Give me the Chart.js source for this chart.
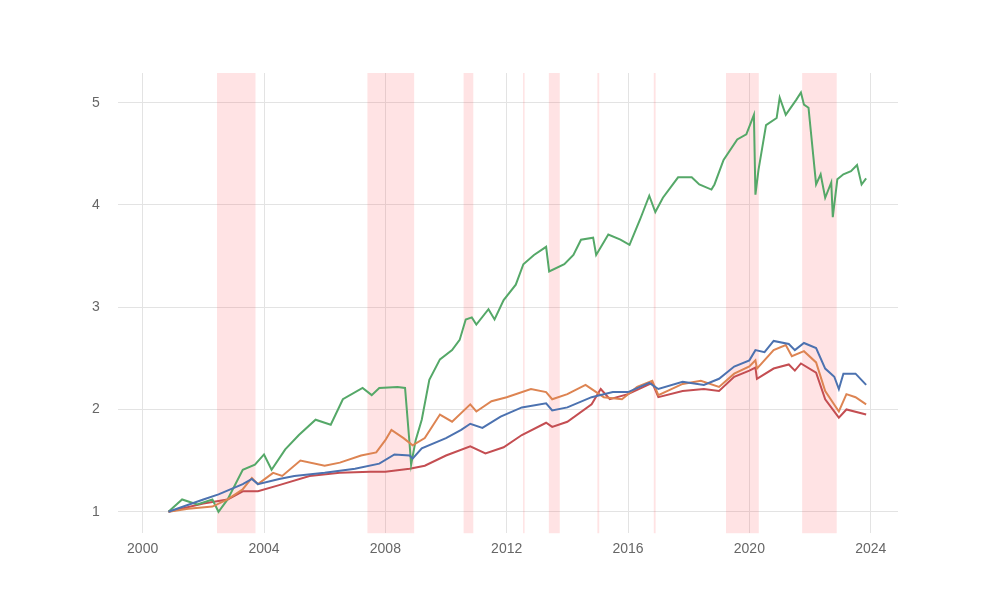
<!DOCTYPE html>
<html>
<head>
<meta charset="utf-8">
<script src="https://cdn.jsdelivr.net/npm/chart.js@4"></script>
<style>
  body { margin: 0; background: #fff; }
  #wrap { width: 1000px; height: 600px; }
</style>
</head>
<body>
<div id="wrap"><canvas id="myChart"></canvas></div>
<script>
// shaded periods [start, end] in years
const bandStart = [2002.45, 2007.41, 2010.58, 2012.54, 2013.39, 2014.99, 2016.85, 2019.23, 2021.74];
const bandEnd   = [2003.72, 2008.95, 2010.90, 2012.58, 2013.75, 2015.05, 2016.91, 2020.31, 2022.88];

const xTicks = [2000, 2004, 2008, 2012, 2016, 2020, 2024];
const yTicks = [1, 2, 3, 4, 5];

const greenYears = [2000.85, 2001.3, 2001.8, 2002.3, 2002.5, 2002.8, 2003.3, 2003.7, 2004.0, 2004.25, 2004.7, 2005.15, 2005.7, 2006.2, 2006.6, 2007.25, 2007.55, 2007.8, 2008.4, 2008.65, 2008.8, 2008.85, 2009.0, 2009.2, 2009.45, 2009.8, 2010.2, 2010.45, 2010.65, 2010.85, 2011.0, 2011.4, 2011.6, 2011.9, 2012.3, 2012.55, 2012.9, 2013.3, 2013.4, 2013.9, 2014.2, 2014.45, 2014.85, 2014.95, 2015.35, 2015.75, 2016.05, 2016.4, 2016.7, 2016.9, 2017.15, 2017.65, 2018.1, 2018.35, 2018.75, 2018.85, 2019.15, 2019.6, 2019.9, 2020.15, 2020.2, 2020.3, 2020.55, 2020.9, 2021.0, 2021.2, 2021.55, 2021.7, 2021.8, 2021.95, 2022.2, 2022.35, 2022.5, 2022.7, 2022.75, 2022.9, 2023.1, 2023.35, 2023.55, 2023.7, 2023.85];
const greenVals = [1.0, 1.12, 1.07, 1.12, 1.0, 1.12, 1.41, 1.46, 1.56, 1.41, 1.61, 1.75, 1.9, 1.85, 2.1, 2.21, 2.14, 2.21, 2.22, 2.21, 1.66, 1.46, 1.70, 1.9, 2.29, 2.49, 2.58, 2.68, 2.88, 2.9, 2.83, 2.98, 2.88, 3.07, 3.22, 3.42, 3.51, 3.59, 3.35, 3.42, 3.51, 3.66, 3.68, 3.51, 3.71, 3.66, 3.61, 3.86, 4.09, 3.93, 4.07, 4.27, 4.27, 4.20, 4.15, 4.2, 4.44, 4.64, 4.69, 4.88, 4.1, 4.34, 4.78, 4.85, 5.05, 4.88, 5.03, 5.10, 4.98, 4.95, 4.2, 4.3, 4.07, 4.22, 3.88, 4.25, 4.3, 4.33, 4.39, 4.2, 4.26];

const blueYears = [2000.85, 2002.0, 2002.5, 2003.3, 2003.6, 2003.8, 2004.5, 2005.0, 2006.0, 2007.0, 2007.8, 2008.3, 2008.8, 2008.9, 2009.2, 2010.0, 2010.5, 2010.8, 2011.2, 2011.8, 2012.5, 2013.3, 2013.5, 2014.0, 2014.8, 2015.5, 2016.0, 2016.7, 2017.0, 2017.8, 2018.5, 2019.0, 2019.5, 2020.0, 2020.2, 2020.5, 2020.8, 2021.3, 2021.5, 2021.8, 2022.2, 2022.5, 2022.8, 2022.95, 2023.1, 2023.5, 2023.85];
const blueVals = [1.0, 1.12, 1.17, 1.27, 1.32, 1.27, 1.32, 1.35, 1.38, 1.42, 1.47, 1.56, 1.55, 1.52, 1.62, 1.72, 1.80, 1.86, 1.82, 1.93, 2.02, 2.06, 1.99, 2.02, 2.12, 2.17, 2.17, 2.26, 2.20, 2.27, 2.24, 2.30, 2.42, 2.48, 2.58, 2.56, 2.67, 2.64, 2.58, 2.65, 2.60, 2.40, 2.32, 2.20, 2.35, 2.35, 2.24];

const orangeYears = [2000.85, 2001.5, 2002.3, 2002.8, 2003.3, 2003.6, 2003.8, 2004.3, 2004.6, 2005.2, 2006.0, 2006.5, 2007.2, 2007.7, 2008.0, 2008.2, 2008.6, 2008.9, 2009.3, 2009.8, 2010.2, 2010.8, 2011.0, 2011.5, 2012.0, 2012.8, 2013.3, 2013.5, 2014.0, 2014.6, 2015.2, 2015.8, 2016.3, 2016.8, 2017.0, 2017.8, 2018.4, 2019.0, 2019.5, 2020.0, 2020.2, 2020.25, 2020.8, 2021.2, 2021.4, 2021.8, 2022.2, 2022.5, 2022.95, 2023.2, 2023.5, 2023.85];
const orangeVals = [1.0, 1.03, 1.05, 1.12, 1.22, 1.33, 1.27, 1.38, 1.35, 1.50, 1.45, 1.48, 1.55, 1.58, 1.70, 1.80, 1.72, 1.65, 1.72, 1.95, 1.88, 2.05, 1.98, 2.08, 2.12, 2.20, 2.17, 2.10, 2.15, 2.24, 2.12, 2.10, 2.22, 2.28, 2.14, 2.25, 2.28, 2.22, 2.35, 2.42, 2.48, 2.40, 2.58, 2.63, 2.52, 2.57, 2.46, 2.18, 1.98, 2.15, 2.12, 2.05];

const redYears = [2000.85, 2002.0, 2002.8, 2003.3, 2003.8, 2004.5, 2005.5, 2006.5, 2007.5, 2008.0, 2008.8, 2009.3, 2010.0, 2010.8, 2011.3, 2011.9, 2012.5, 2013.3, 2013.5, 2014.0, 2014.8, 2015.1, 2015.4, 2016.0, 2016.8, 2017.0, 2017.8, 2018.5, 2019.0, 2019.5, 2020.0, 2020.2, 2020.25, 2020.8, 2021.3, 2021.5, 2021.7, 2022.2, 2022.5, 2022.95, 2023.2, 2023.85];
const redVals = [1.0, 1.08, 1.12, 1.20, 1.20, 1.26, 1.35, 1.38, 1.39, 1.39, 1.42, 1.45, 1.55, 1.64, 1.57, 1.63, 1.75, 1.87, 1.83, 1.88, 2.05, 2.20, 2.10, 2.15, 2.26, 2.12, 2.18, 2.20, 2.18, 2.32, 2.38, 2.41, 2.30, 2.40, 2.44, 2.38, 2.45, 2.36, 2.10, 1.92, 2.00, 1.95];

const pts = (xs, ys) => xs.map((x, i) => ({ x: x, y: ys[i] }));

const series = [
  { data: pts(blueYears, blueVals), borderColor: "#4c72b0" },
  { data: pts(orangeYears, orangeVals), borderColor: "#dd8452" },
  { data: pts(greenYears, greenVals), borderColor: "#55a868" },
  { data: pts(redYears, redVals), borderColor: "#c44e52" },
];

//! shaded bands, drawn through the x scale
const bands = {
  id: "bands",
  beforeDatasetsDraw(chart) {
    const { ctx, chartArea, scales } = chart;
    ctx.save();
    ctx.fillStyle = "rgba(255, 80, 90, 0.16)";
    bandStart.forEach((s, i) => {
      const x0 = scales.x.getPixelForValue(s);
      const x1 = scales.x.getPixelForValue(bandEnd[i]);
      ctx.fillRect(x0, chartArea.top, Math.max(x1 - x0, 1.5), chartArea.bottom - chartArea.top);
    });
    ctx.restore();
  },
};

const gridColor = "#e3e3e3";
const tickFont = { size: 14, family: "Liberation Sans, Arial, sans-serif" };

new Chart(document.getElementById("myChart"), {
  type: "line",
  data: {
    datasets: series.map(s => ({
      data: s.data,
      borderColor: s.borderColor,
      borderWidth: 2,
      pointRadius: 0,
      tension: 0,
      fill: false,
    })),
  },
  options: {
    responsive: true,
    maintainAspectRatio: false,
    animation: false,
    layout: { padding: { left: 74, right: 102, top: 73, bottom: 34 } },
    plugins: { legend: { display: false }, tooltip: { enabled: false } },
    scales: {
      x: {
        type: "linear",
        min: 1999.18,
        max: 2024.9,
        afterBuildTicks: axis => { axis.ticks = xTicks.map(v => ({ value: v })); },
        grid: { color: gridColor, drawTicks: false },
        border: { display: false },
        ticks: { color: "#666", font: tickFont, padding: 8, callback: v => String(v) },
      },
      y: {
        min: 0.79,
        max: 5.29,
        afterBuildTicks: axis => { axis.ticks = yTicks.map(v => ({ value: v })); },
        grid: { color: gridColor, drawTicks: false },
        border: { display: false },
        ticks: { color: "#666", font: tickFont, padding: 18 },
      },
    },
  },
  plugins: [bands],
});
</script>
</body>
</html>
